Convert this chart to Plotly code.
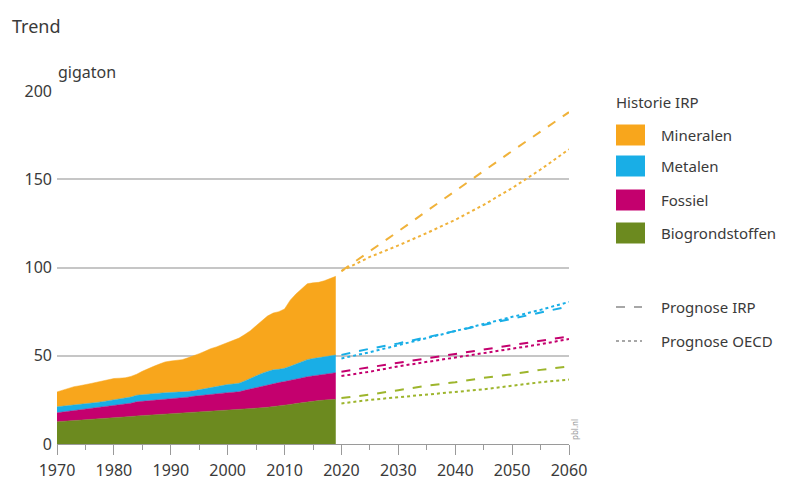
import plotly.graph_objects as go

# historical material extraction (IRP), gigaton, stacked layers 1970-2019
years = list(range(1970, 2020))

biogrondstoffen = [12.6, 12.8, 13.1, 13.3, 13.6, 13.8, 14.1, 14.3, 14.6, 14.8,
                   15.0, 15.2, 15.4, 15.6, 15.9, 16.1, 16.3, 16.5, 16.7, 16.9,
                   17.0, 17.2, 17.4, 17.6, 17.8, 17.9, 18.1, 18.3, 18.5, 18.7,
                   18.9, 19.1, 19.3, 19.6, 19.9, 20.2, 20.5, 20.8, 21.1, 21.5,
                   21.9, 22.4, 22.9, 23.4, 24.0, 24.3, 24.6, 24.9, 25.1, 25.3]

fossiel = [5.1, 5.3, 5.5, 5.7, 5.8, 5.9, 6.1, 6.3, 6.5, 6.7,
           6.8, 7.0, 7.2, 7.5, 8.0, 8.1, 8.1, 8.2, 8.3, 8.3,
           8.3, 8.5, 8.7, 8.9, 9.2, 9.5, 9.7, 9.8, 9.9, 10.1,
           10.2, 10.2, 10.3, 10.8, 11.3, 11.8, 12.3, 12.8, 13.3, 13.3,
           13.5, 13.8, 13.9, 14.0, 14.1, 14.3, 14.5, 14.7, 14.9, 15.1]

metalen = [3.4, 3.3, 3.2, 3.2, 3.1, 3.0, 3.0, 2.9, 2.9, 3.0,
           3.1, 3.2, 3.3, 3.5, 3.7, 3.8, 3.8, 3.8, 3.8, 3.8,
           3.8, 3.6, 3.4, 3.2, 3.1, 3.3, 3.6, 4.0, 4.3, 4.5,
           4.6, 4.7, 4.8, 5.3, 6.0, 6.6, 7.2, 7.5, 7.6, 7.5,
           7.5, 7.8, 8.4, 9.2, 9.7, 9.8, 9.9, 10.0, 10.0, 10.0]

mineralen = [8.4, 9.1, 9.7, 10.3, 10.5, 10.8, 11.1, 11.5, 11.8, 12.1,
             12.2, 11.9, 11.6, 11.7, 11.9, 13.2, 14.6, 15.5, 16.5, 17.5,
             17.9, 18.1, 18.3, 19.1, 20.1, 20.5, 21.1, 21.9, 22.3, 23.0,
             23.5, 24.5, 25.6, 26.3, 27.0, 28.4, 30.0, 31.4, 32.2, 32.7,
             33.6, 37.5, 39.8, 41.4, 43.0, 42.9, 42.6, 42.9, 43.8, 44.6]

# projections 2020-2060 (per category, not stacked)
prog_years = [2020, 2025, 2030, 2035, 2040, 2045, 2050, 2055, 2060]
irp_mineralen = [98, 109, 120.5, 132, 143.5, 155, 166, 177, 188]
oecd_mineralen = [98, 106, 112.5, 119.5, 127, 135.5, 145, 155.5, 167]
irp_metalen = [50.5, 54, 57, 60.5, 64, 67.5, 71, 74.5, 78]
oecd_metalen = [48.5, 52, 56, 60, 64, 68, 72, 76, 80.5]
irp_fossiel = [41, 43.5, 46, 48.5, 51, 53.5, 56, 58.5, 61]
oecd_fossiel = [38.5, 41, 44, 46.5, 49, 51.5, 54, 56.5, 59.5]
irp_bio = [26, 28, 30.5, 33, 35, 37.5, 39.5, 42, 44]
oecd_bio = [23, 25, 26.5, 28, 29.5, 31, 33, 35, 36.5]

# colours
c_min = "#F8A61C"
c_met = "#19AEE6"
c_fos = "#C4006E"
c_bio = "#6C8A1F"
c_min_line = "#F0B23A"
c_bio_line = "#9DB52C"

font_family = "Noto Sans"
txt = "#3a3a3a"
fs = 16
fs_leg = 15

fig = go.Figure()

# stacked history
for name, vals, col in [("Biogrondstoffen", biogrondstoffen, c_bio),
                        ("Fossiel", fossiel, c_fos),
                        ("Metalen", metalen, c_met),
                        ("Mineralen", mineralen, c_min)]:
    fig.add_trace(go.Scatter(x=years, y=vals, name=name, stackgroup="hist",
                             mode="lines", line=dict(width=0.5, color=col),
                             fillcolor=col, showlegend=False, hoverinfo="x+y+name"))

# projection lines
for vals, col, dash in [(irp_mineralen, c_min_line, "dash"), (oecd_mineralen, c_min_line, "dot"),
                        (irp_metalen, c_met, "dash"), (oecd_metalen, c_met, "dot"),
                        (irp_fossiel, c_fos, "dash"), (oecd_fossiel, c_fos, "dot"),
                        (irp_bio, c_bio_line, "dash"), (oecd_bio, c_bio_line, "dot")]:
    fig.add_trace(go.Scatter(x=prog_years, y=vals, mode="lines",
                             line=dict(color=col, width=2, dash=dash),
                             showlegend=False))

# the page body adds an 8px margin, so the figure is 8px smaller each way.
# pixel helpers (window pixels) for the hand-made legend / labels:
# plot area spans x 57..569 and y 91..444 in the window
def px(x):
    return (x - 57) / 512

def py(y):
    return (444 - y) / 353

shapes = []
annotations = []

annotations.append(dict(x=px(10), y=py(26), xref="paper", yref="paper", text="Trend",
                        showarrow=False, xanchor="left", yanchor="middle",
                        font=dict(size=18, color=txt)))
annotations.append(dict(x=px(56), y=py(72), xref="paper", yref="paper", text="gigaton",
                        showarrow=False, xanchor="left", yanchor="middle",
                        font=dict(size=fs, color=txt)))
annotations.append(dict(x=px(574), y=py(430), xref="paper", yref="paper", text="pbl.nl",
                        showarrow=False, textangle=-90, xanchor="center", yanchor="middle",
                        font=dict(size=8, color="#9a9a9a")))

# legend: history
annotations.append(dict(x=px(614), y=py(102), xref="paper", yref="paper", text="Historie IRP",
                        showarrow=False, xanchor="left", yanchor="middle",
                        font=dict(size=fs_leg, color=txt)))
for label, col, yc in [("Mineralen", c_min, 135), ("Metalen", c_met, 166),
                       ("Fossiel", c_fos, 200), ("Biogrondstoffen", c_bio, 233)]:
    shapes.append(dict(type="rect", xref="paper", yref="paper",
                       x0=px(616), x1=px(645), y0=py(yc - 10.5), y1=py(yc + 10.5),
                       fillcolor=col, line=dict(width=0)))
    annotations.append(dict(x=px(659), y=py(yc), xref="paper", yref="paper", text=label,
                            showarrow=False, xanchor="left", yanchor="middle",
                            font=dict(size=fs_leg, color=txt)))

# legend: projections
for label, dash, yc in [("Prognose IRP", "dash", 307), ("Prognose OECD", "dot", 341)]:
    shapes.append(dict(type="line", xref="paper", yref="paper",
                       x0=px(616), x1=px(642), y0=py(yc), y1=py(yc),
                       line=dict(color="#8a8a8a", width=1.5, dash=dash)))
    annotations.append(dict(x=px(659), y=py(yc), xref="paper", yref="paper", text=label,
                            showarrow=False, xanchor="left", yanchor="middle",
                            font=dict(size=fs_leg, color=txt)))

fig.update_layout(
    width=779, height=473,
    margin=dict(l=49, r=218, t=83, b=37, autoexpand=False),
    paper_bgcolor="white", plot_bgcolor="white",
    font=dict(family=font_family, size=fs, color=txt),
    shapes=shapes, annotations=annotations,
    showlegend=False,
)

fig.update_xaxes(range=[1970, 2060], tickvals=list(range(1970, 2061, 10)),
                 automargin=False,
                 showgrid=False, zeroline=False,
                 showline=True, linecolor="#9a9a9a", linewidth=1,
                 ticks="outside", ticklen=10, tickcolor="#9a9a9a", tickwidth=1,
                 minor=dict(tickvals=list(range(1975, 2060, 10)), ticks="outside",
                            ticklen=5, tickcolor="#9a9a9a", showgrid=False),
                 ticklabelstandoff=2,
                 tickfont=dict(size=fs, color=txt))

fig.update_yaxes(range=[0, 200], tickvals=[0, 50, 100, 150, 200],
                 automargin=False,
                 showgrid=True, gridcolor="#C6C6C6", gridwidth=2,
                 zeroline=False, showline=False, ticks="",
                 ticklabelstandoff=4,
                 tickfont=dict(size=fs, color=txt))

fig.write_html("out.html")
